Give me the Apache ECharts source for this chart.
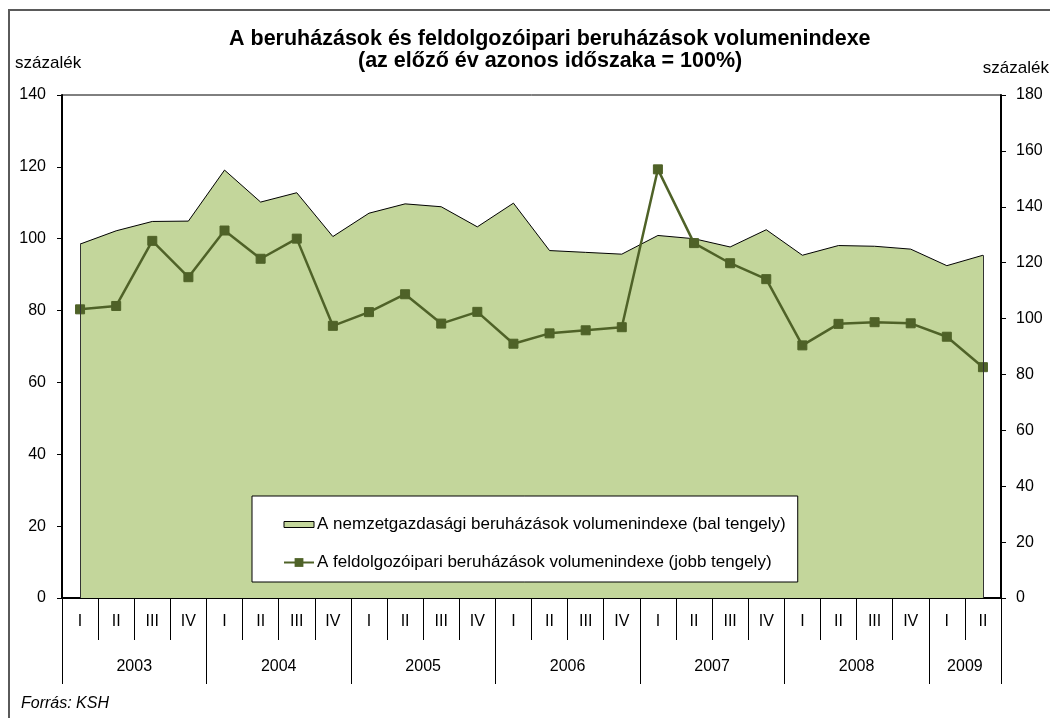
<!DOCTYPE html>
<html>
<head>
<meta charset="utf-8">
<title>Beruházások volumenindexe</title>
<script src="https://cdn.jsdelivr.net/npm/echarts@6/dist/echarts.min.js"></script>
<style>
    html, body { margin: 0; padding: 0; background: #fff; }
    #chart { width: 1050px; height: 718px; }
</style>
</head>
<body>
<div id="chart"></div>
<script>
    // negyedévek es évek
    var quarters = ['I','II','III','IV','I','II','III','IV','I','II','III','IV','I','II','III','IV',
                    'I','II','III','IV','I','II','III','IV','I','II'];
    var years = ['2003','2004','2005','2006','2007','2008','2009'];
    var quartersPerYear = [4,4,4,4,4,4,2];

    // bal tengely (terulet)
    var nemzetgazdasagi = [98.5, 102.2, 104.8, 104.9, 119.1, 110.2, 112.8, 100.6, 107.1, 109.7, 108.9, 103.3,
                           109.9, 96.7, 96.2, 95.7, 100.9, 100.0, 97.7, 102.5, 95.4, 98.1, 97.9, 97.1, 92.5, 95.4];
    // jobb tengely (vonal)
    var feldolgozoipari = [103.3, 104.5, 127.8, 114.8, 131.5, 121.4, 128.6, 97.4, 102.3, 108.7, 98.2, 102.4,
                           91.0, 94.7, 95.8, 96.9, 153.4, 127.0, 119.8, 114.1, 90.4, 98.1, 98.7, 98.3, 93.5, 82.6];

    var areaName = 'A nemzetgazdasági beruházások volumenindexe (bal tengely)';
    var lineName = 'A feldolgozóipari beruházások volumenindexe (jobb tengely)';

    var font = '"Liberation Sans", Arial, sans-serif';

    // az evek hataraihoz es kozepehez
    var yearStarts = {};
    var yearCenters = {};
    var pos = 0;
    quartersPerYear.forEach(function(n, i){
        yearStarts[pos] = true;
        yearCenters[pos + n / 2] = years[i];
        pos += n;
    });
    var yearOfQuarter = [];
    quartersPerYear.forEach(function(n, i){
        for (var k = 0; k < n; k++) yearOfQuarter.push(years[i]);
    });
    var last = nemzetgazdasagi.length - 1;

    var titleStyle = { fontFamily: font, fontSize: 21.5, fontWeight: 'bold', color: '#000' };

    var myChart = echarts.init(document.getElementById('chart'));

    var option = {
        backgroundColor: '#fff',
        textStyle: { fontFamily: font },
        animation: false,
        graphic: [{
            type: 'rect',
            shape: { x: 9, y: 10, width: 1100, height: 800 },
            style: { fill: 'none', stroke: '#5a5a5a', lineWidth: 2 },
            silent: true
        }],
        title: [
            {
                text: 'A beruházások és feldolgozóipari beruházások volumenindexe',
                left: 229, top: 28, padding: 0,
                textStyle: titleStyle
            },
            {
                text: '(az előző év azonos időszaka = 100%)',
                left: 358, top: 50, padding: 0,
                textStyle: titleStyle
            },
            {
                text: 'százalék', left: 15, top: 55, padding: 0,
                textStyle: { fontFamily: font, fontSize: 17, fontWeight: 'normal', color: '#000' }
            },
            {
                text: 'százalék', right: 1, top: 60, padding: 0,
                textStyle: { fontFamily: font, fontSize: 17, fontWeight: 'normal', color: '#000' }
            },
            {
                text: 'Forrás: KSH', left: 21, top: 696, padding: 0,
                textStyle: { fontFamily: font, fontSize: 16, fontWeight: 'normal', fontStyle: 'italic', color: '#000' }
            }
        ],
        legend: {
            orient: 'vertical',
            left: 252,
            top: 496,
            padding: [20, 12, 11, 31],
            itemGap: 21,
            itemWidth: 30,
            itemHeight: 11,
            backgroundColor: '#fff',
            borderColor: '#000',
            borderWidth: 1,
            textStyle: { fontFamily: font, fontSize: 17, color: '#000', padding: [0, 0, 0, -2] },
            data: [
                {
                    name: areaName,
                    icon: 'path://M0,0H30V6H0Z',
                    itemStyle: { color: '#c3d69b', borderColor: '#000', borderWidth: 1 }
                },
                { name: lineName }
            ]
        },
        grid: {
            left: 62,
            right: 49,
            top: 95,
            bottom: 120,
            show: true,
            borderColor: '#000',
            borderWidth: 1
        },
        xAxis: [
            {
                type: 'category',
                data: quarters,
                position: 'bottom',
                boundaryGap: true,
                axisLine: { lineStyle: { color: '#000', width: 2 } },
                axisTick: { show: true, interval: 0, length: 42, lineStyle: { color: '#000', width: 1 } },
                axisLabel: { interval: 0, margin: 16, color: '#000', fontSize: 16, fontFamily: font },
                splitLine: { show: false }
            },
            {
                type: 'category',
                data: yearOfQuarter,
                position: 'bottom',
                boundaryGap: true,
                axisLine: { show: false },
                axisTick: {
                    show: true,
                    length: 86,
                    lineStyle: { color: '#000', width: 1 },
                    interval: function(index){ return !!yearStarts[index]; }
                },
                axisLabel: { show: false },
                splitLine: { show: false }
            },
            {
                type: 'value',
                min: 0,
                max: quarters.length,
                interval: 1,
                position: 'bottom',
                axisLine: { show: false },
                axisTick: { show: false },
                splitLine: { show: false },
                axisLabel: {
                    margin: 61,
                    color: '#000',
                    fontSize: 16,
                    fontFamily: font,
                    formatter: function(v){ return yearCenters[v] || ''; }
                }
            }
        ],
        yAxis: [
            {
                type: 'value',
                position: 'left',
                min: 0,
                max: 140,
                interval: 20,
                axisLine: { show: true, lineStyle: { color: '#000', width: 2 } },
                axisTick: { show: true, length: 5, lineStyle: { color: '#000' } },
                splitLine: { show: false },
                axisLabel: { margin: 16, color: '#000', fontSize: 16, fontFamily: font }
            },
            {
                type: 'value',
                position: 'right',
                min: 0,
                max: 180,
                interval: 20,
                axisLine: { show: true, lineStyle: { color: '#000', width: 2 } },
                axisTick: { show: true, length: 5, lineStyle: { color: '#000' } },
                splitLine: { show: false },
                axisLabel: { margin: 15, color: '#000', fontSize: 16, fontFamily: font }
            }
        ],
        series: [
            {
                name: areaName,
                type: 'line',
                xAxisIndex: 0,
                yAxisIndex: 0,
                data: nemzetgazdasagi,
                symbol: 'none',
                lineStyle: { color: '#000', width: 1 },
                itemStyle: { color: '#c3d69b', borderColor: '#000' },
                areaStyle: { color: '#c3d69b', opacity: 1 },
                markLine: {
                    silent: true,
                    symbol: 'none',
                    label: { show: false },
                    lineStyle: { color: '#333', width: 1, type: 'solid' },
                    data: [
                        [{ coord: [0, 0] }, { coord: [0, nemzetgazdasagi[0]] }],
                        [{ coord: [last, 0] }, { coord: [last, nemzetgazdasagi[last]] }]
                    ]
                },
                z: 2
            },
            {
                name: lineName,
                type: 'line',
                xAxisIndex: 0,
                yAxisIndex: 1,
                data: feldolgozoipari,
                symbol: 'rect',
                symbolSize: 9,
                showAllSymbol: true,
                lineStyle: { color: '#4f6228', width: 2.5 },
                itemStyle: { color: '#4f6228', borderColor: '#4f6228' },
                z: 3
            }
        ]
    };

    myChart.setOption(option);
</script>
</body>
</html>
